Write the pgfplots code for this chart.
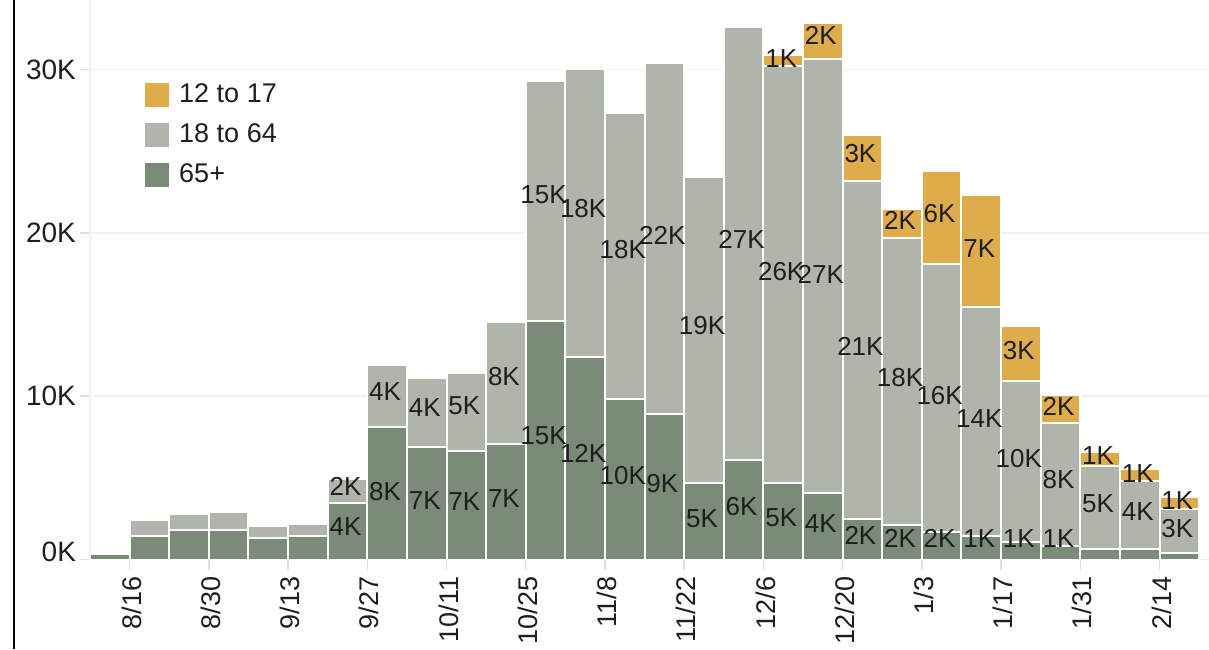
\documentclass[border=0pt]{standalone}
\usepackage{pgfplots}
\usepackage{pgfplotstable}
\pgfplotsset{compat=1.18}
\usepackage{fontspec}
\setmainfont{Liberation Sans}

\definecolor{teen}{HTML}{DEAC4A}
\definecolor{adult}{HTML}{B0B5AB}
\definecolor{senior}{HTML}{7A8B78}
\definecolor{gridc}{HTML}{F0F0F0}
\definecolor{txt}{HTML}{1E1E1E}

% weekly doses by age group, in thousands (x = week index + 0.5)
\pgfplotstableread{
x    senior adult teen
0.5  0.35   0.00  0.00
1.5  1.42   1.00  0.00
2.5  1.82   0.97  0.00
3.5  1.82   1.10  0.00
4.5  1.33   0.73  0.00
5.5  1.42   0.76  0.00
6.5  3.45   1.50  0.00
7.5  8.13   3.76  0.00
8.5  6.91   4.22  0.00
9.5  6.66   4.74  0.00
10.5 7.05   7.50  0.00
11.5 14.60  14.70 0.00
12.5 12.42  17.62 0.00
13.5 9.80   17.55 0.00
14.5 8.89   21.53 0.00
15.5 4.70   18.70 0.00
16.5 6.10   26.50 0.00
17.5 4.70   25.50 0.72
18.5 4.09   26.58 2.20
19.5 2.48   20.72 2.80
20.5 2.11   17.56 1.79
21.5 1.66   16.42 5.71
22.5 1.45   14.03 6.84
23.5 1.05   9.90  3.35
24.5 0.85   7.53  1.67
25.5 0.64   5.09  0.87
26.5 0.64   4.19  0.69
27.5 0.38   2.71  0.72
}\agedata

% segment labels: x, y (label centre, thousands), text
\pgfplotstableread{
x    y     lab
6.5  4.46  2K
6.5  2.01  4K
7.5  10.28 4K
7.5  4.15  8K
8.5  9.28  4K
8.5  3.64  7K
9.5  9.40  5K
9.5  3.54  7K
10.5 11.19 8K
10.5 3.75  7K
11.5 22.32 15K
11.5 7.56  15K
12.5 21.52 18K
12.5 6.50  12K
13.5 18.95 18K
13.5 5.13  10K
14.5 19.83 22K
14.5 4.67  9K
15.5 14.30 19K
15.5 2.52  5K
16.5 19.61 27K
16.5 3.23  6K
17.5 30.69 1K
17.5 17.62 26K
17.5 2.56  5K
18.5 32.06 2K
18.5 17.48 27K
18.5 2.22  4K
19.5 24.83 3K
19.5 13.03 21K
19.5 1.46  2K
20.5 20.79 2K
20.5 11.13 18K
20.5 1.30  2K
21.5 21.16 6K
21.5 10.01 16K
21.5 1.30  2K
22.5 19.06 7K
22.5 8.65  14K
22.5 1.30  1K
23.5 12.79 3K
23.5 6.20  10K
23.5 1.30  1K
24.5 9.40  2K
24.5 4.87  8K
24.5 1.30  1K
25.5 6.34  1K
25.5 3.40  5K
26.5 5.28  1K
26.5 2.93  4K
27.5 3.64  1K
27.5 1.91  3K
}\labeldata

\pgfplotsset{
    chartframe/.style={
        at={(45pt,44.75pt)},
        anchor=south west,
        scale only axis,
        width=559.5pt,
        height=279.75pt,
        xmin=0, xmax=28.25,
        ymin=0, ymax=34.26,
    },
}

\begin{document}
\begin{tikzpicture}
    \path[use as bounding box] (0,0) rectangle (604.5pt,324.5pt);

    \begin{axis}[
        chartframe,
        ybar stacked,
        bar width=1,
        axis x line=bottom,
        axis y line=left,
        axis line style={-, draw=gridc, line width=0.75pt},
        ymajorgrids,
        grid style={draw=gridc, line width=0.75pt},
        ytick={0,10,20,30},
        yticklabels={\raisebox{8pt}{0K},10K,20K,30K},
        xtick={1,3,...,27},
        xticklabels={8/16,8/30,9/13,9/27,10/11,10/25,11/8,11/22,12/6,12/20,1/3,1/17,1/31,2/14},
        tick align=outside,
        major tick length=5pt,
        tick style={draw=black!12, line width=0.75pt},
        yticklabel style={anchor=east, font=\fontsize{14}{15}\selectfont, text=txt, xshift=1.5pt},
        xticklabel style={rotate=90, anchor=east, font=\fontsize{13.5}{14}\selectfont, text=txt, yshift=-1pt},
        legend style={
            at={(0.049,0.853)}, anchor=north west,
            draw=none, fill=none, inner sep=0pt,
            row sep=8pt,
            font=\fontsize{13.5}{14}\selectfont,
            text=txt,
            nodes={inner sep=0pt, text height=10pt, text depth=2pt},
            /tikz/every odd column/.append style={column sep=5pt},
        },
        legend cell align=left,
        reverse legend,
    ]
    \addplot[fill=senior, draw=white, line width=1pt,
        legend image code/.code={\fill[senior] (0pt,-5.5pt) rectangle (11pt,5.5pt);}]
        table[x=x, y=senior] {\agedata};
    \addlegendentry{65+}
    \addplot[fill=adult, draw=white, line width=1pt,
        legend image code/.code={\fill[adult] (0pt,-5.5pt) rectangle (11pt,5.5pt);}]
        table[x=x, y=adult] {\agedata};
    \addlegendentry{18 to 64}
    \addplot[fill=teen, draw=white, line width=1pt,
        legend image code/.code={\fill[teen] (0pt,-5.5pt) rectangle (11pt,5.5pt);}]
        table[x=x, y=teen] {\agedata};
    \addlegendentry{12 to 17}
    \end{axis}

    \begin{axis}[
        chartframe,
        hide axis,
        clip=false,
    ]
    \addplot[only marks, mark=none,
        nodes near coords,
        point meta=explicit symbolic,
        every node near coord/.style={anchor=center, inner sep=0pt, xshift=-1pt,
            font=\fontsize{13}{14}\selectfont, text=txt}]
        table[x=x, y=y, meta=lab] {\labeldata};
    \end{axis}

    \draw[line width=1.3pt, black] (7pt,0) -- (7pt,324.5pt);
\end{tikzpicture}
\end{document}
